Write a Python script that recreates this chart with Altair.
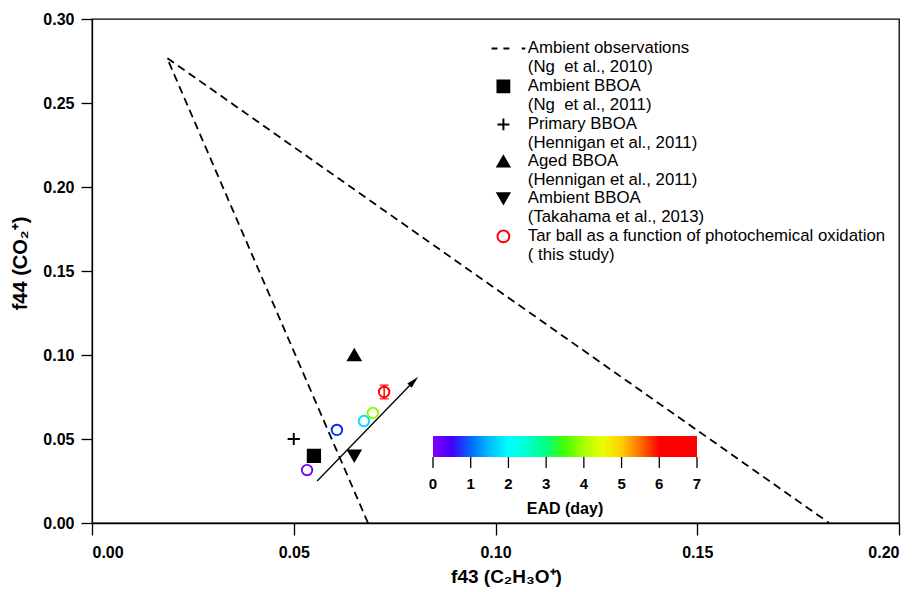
import altair as alt
import pandas as pd

# ---------------- data ----------------
# Ng et al. (2010) triangle (dashed), drawn as one polyline
tri_x = [0.0684, 0.0186, 0.1827]
tri_y = [0.0, 0.2768, 0.0]

# legend series (label lines separated by "|")
series_names = [
    "Ambient observations|(Ng\u00a0 et al., 2010)",
    "Ambient BBOA|(Ng\u00a0 et al., 2011)",
    "Primary BBOA|(Hennigan et al., 2011)",
    "Aged BBOA|(Hennigan et al., 2011)",
    "Ambient BBOA|(Takahama et al., 2013)",
    "Tar ball as a function of photochemical oxidation|( this study)",
]

# literature reference points
ref_series = series_names[1:5]
ref_x = [0.055, 0.050, 0.065, 0.065]
ref_y = [0.040, 0.050, 0.100, 0.040]

# tar ball points (this study)
tar_x = [0.0533, 0.0607, 0.0674, 0.0696, 0.0724]
tar_y = [0.0315, 0.0554, 0.0607, 0.0655, 0.0780]
tar_ead = [0.1, 0.75, 1.75, 3.8, 6.3]
tar_err = [0.0, 0.0, 0.0, 0.0, 0.004]

# photochemical-ageing arrow
arrow_x = [0.0558, 0.07975]
arrow_y = [0.025, 0.08435]

# colour bar
ead_ticks = [0, 1, 2, 3, 4, 5, 6, 7]
color_domain = [0, 0.7, 2.0, 3.4, 4.7, 5.8, 7]
color_range = ["#8000ff", "#0000ff", "#00ffff", "#00ff00", "#ffff00", "#ff0000", "#ff0000"]

# ---------------- styling ----------------
FONT = "Liberation Sans"
dash_path = "M-2,0H-1M0,0H1M3.1,0H3.7"
plus_path = "M-1,0H1M0,-1V1"
arrow_path = "M0,-1L0.5,1L-0.5,1Z"
series_shapes = [dash_path, "square", plus_path, "triangle-up", "triangle-down", "circle"]
series_fill = ["transparent", "black", "transparent", "black", "black", "transparent"]
series_stroke = ["black", "black", "black", "black", "black", "red"]

tri_df = pd.DataFrame({"x": tri_x, "y": tri_y, "i": list(range(len(tri_x)))})
ref_df = pd.DataFrame({"series": ref_series, "x": ref_x, "y": ref_y})
tar_df = pd.DataFrame({"x": tar_x, "y": tar_y, "ead": tar_ead, "err": tar_err})
tar_df["lo"] = tar_df["y"] - tar_df["err"]
tar_df["hi"] = tar_df["y"] + tar_df["err"]
err_df = tar_df[tar_df["err"] > 0]
arrow_df = pd.DataFrame({"x": arrow_x, "y": arrow_y, "i": [0, 1]})
head_df = arrow_df.tail(1)
tick_df = pd.DataFrame({"v": ead_ticks})

xscale = alt.Scale(domain=[0, 0.2], nice=False, zero=False)
yscale = alt.Scale(domain=[0, 0.3], nice=False, zero=False)

X = alt.X(
    "x:Q", scale=xscale,
    axis=alt.Axis(title="f43 (C\u2082H\u2083O\u207a)", values=[0, 0.05, 0.1, 0.15, 0.2], format=".2f",
                  tickSize=12, labelPadding=9, labelFontSize=16, titleFontSize=19,
                  titleX=414, titlePadding=7),
)
Y = alt.Y(
    "y:Q", scale=yscale,
    axis=alt.Axis(title="f44 (CO\u2082\u207a)", values=[0, 0.05, 0.1, 0.15, 0.2, 0.25, 0.3], format=".2f",
                  tickSize=11, labelPadding=7, labelFontSize=16, titleFontSize=20,
                  titleX=-62, titleY=244, titleAlign="center"),
)

triangle = alt.Chart(tri_df).mark_line(color="black", strokeWidth=1.8, strokeDash=[8, 5]).encode(
    x=X, y=Y, order=alt.Order("i:Q")
)

arrow_line = alt.Chart(arrow_df).mark_line(color="black", strokeWidth=1.3).encode(
    x="x:Q", y="y:Q", order=alt.Order("i:Q")
)
arrow_head = alt.Chart(head_df).mark_point(
    shape=arrow_path, filled=True, color="black", size=150, angle=44.4, opacity=1
).encode(x="x:Q", y="y:Q")

series_legend = alt.Legend(
    orient="none", legendX=403, legendY=21, title=None,
    labelExpr="split(datum.label, '|')",
    labelFont=FONT, labelFontSize=16.8, labelLimit=700, labelOffset=16,
    symbolSize=140, symbolStrokeWidth=2, rowPadding=0, padding=0,
)
ref_pts = alt.Chart(ref_df).mark_point(size=150, strokeWidth=2, opacity=1).encode(
    x="x:Q", y="y:Q",
    shape=alt.Shape("series:N", scale=alt.Scale(domain=series_names, range=series_shapes), legend=series_legend),
    fill=alt.Fill("series:N", scale=alt.Scale(domain=series_names, range=series_fill), legend=series_legend),
    stroke=alt.Stroke("series:N", scale=alt.Scale(domain=series_names, range=series_stroke), legend=series_legend),
)

err_rule = alt.Chart(err_df).mark_rule(color="red", strokeWidth=1.5).encode(
    x="x:Q", y="lo:Q", y2="hi:Q"
)
err_caps_lo = alt.Chart(err_df).mark_tick(color="red", thickness=1.8, size=9, orient="horizontal").encode(
    x="x:Q", y="lo:Q"
)
err_caps_hi = alt.Chart(err_df).mark_tick(color="red", thickness=1.8, size=9, orient="horizontal").encode(
    x="x:Q", y="hi:Q"
)

tar_pts = alt.Chart(tar_df).mark_point(filled=False, size=110, strokeWidth=1.9, opacity=1).encode(
    x="x:Q", y="y:Q",
    color=alt.Color(
        "ead:Q",
        scale=alt.Scale(domain=color_domain, range=color_range),
        legend=alt.Legend(
            orient="none", legendX=341, legendY=417, direction="horizontal",
            gradientLength=264, gradientThickness=21, gradientStrokeWidth=0,
            values=ead_ticks, labelOverlap=False, labelExpr="''",
            title="EAD (day)", titleOrient="bottom", titleAnchor="middle",
            titleFont=FONT, titleFontSize=16, titleFontWeight="bold", titlePadding=10,
            labelFont=FONT, labelFontSize=15, labelFontWeight="bold", labelOffset=19,
            padding=0,
        ),
    ),
)

main = alt.layer(triangle, arrow_line, arrow_head, ref_pts, err_rule, err_caps_lo, err_caps_hi, tar_pts)

cbar_x = alt.X("v:Q", scale=alt.Scale(domain=[0, 7], range=[341, 605]), axis=None)
cbar_ticks = alt.Chart(tick_df).mark_rule(color="black", strokeWidth=1.3).encode(
    x=cbar_x, y=alt.value(438), y2=alt.value(449),
)
cbar_labels = alt.Chart(tick_df).mark_text(
    font=FONT, fontSize=15, fontWeight="bold", color="black", baseline="middle", align="center"
).encode(x=cbar_x, y=alt.value(465), text=alt.Text("v:Q", format="d"))

chart = (
    alt.layer(main, alt.layer(cbar_ticks, cbar_labels))
    .resolve_scale(x="independent")
    .properties(
        width=807, height=504,
        autosize=alt.AutoSizeParams(type="none"),
        padding={"left": 92, "top": 19, "right": 18, "bottom": 69},
        background="white",
    )
    .configure_view(stroke="black", strokeWidth=1.3)
    .configure_axis(
        grid=False, domainColor="black", domainWidth=1.3, tickColor="black", tickWidth=1.3,
        labelFont=FONT, labelFontSize=16, labelFontWeight="bold", labelColor="black",
        titleFont=FONT, titleFontSize=19, titleFontWeight="bold", titleColor="black",
    )
    .configure_legend(labelColor="black", titleColor="black")
)

chart.save("out.html", embed_options={"renderer": "svg", "actions": False})
